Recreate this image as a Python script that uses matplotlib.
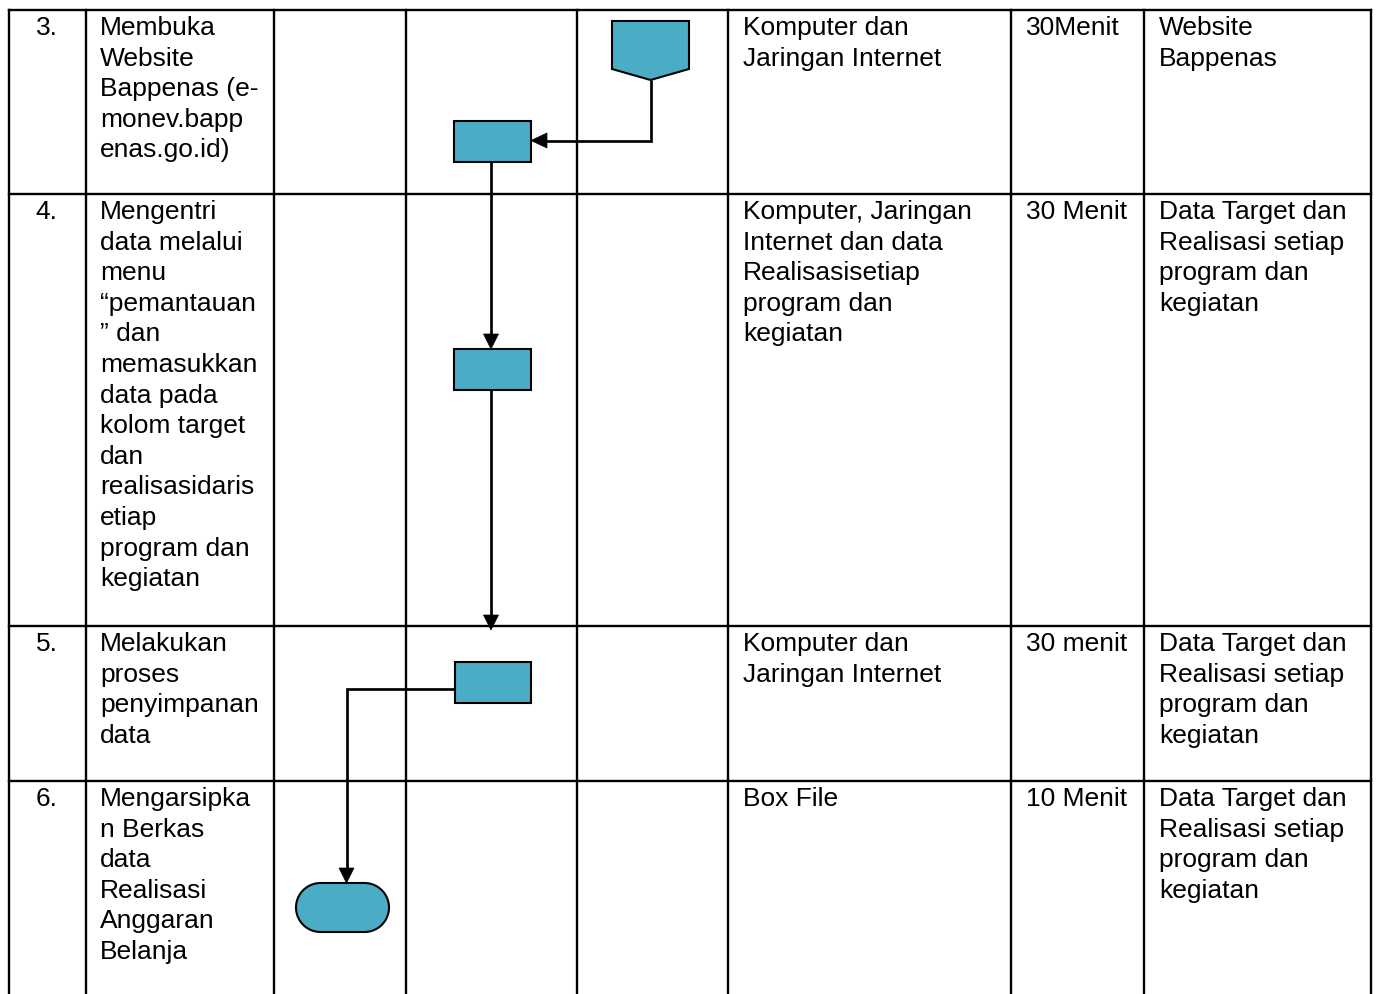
import matplotlib
matplotlib.use("Agg")
import numpy as np
import matplotlib.pyplot as plt
from matplotlib.patches import Rectangle, Polygon

plt.rcParams['font.family'] = ['Liberation Sans', 'DejaVu Sans']

# ---- table content ----
row_numbers = ["3.", "4.", "5.", "6."]
activities = [
    ["Membuka", "Website", "Bappenas (e-", "monev.bapp", "enas.go.id)"],
    ["Mengentri", "data melalui", "menu", "\u201cpemantauan", "\u201d dan", "memasukkan",
     "data pada", "kolom target", "dan", "realisasidaris", "etiap", "program dan", "kegiatan"],
    ["Melakukan", "proses", "penyimpanan", "data"],
    ["Mengarsipka", "n Berkas", "data", "Realisasi", "Anggaran", "Belanja"],
]
equipment = [
    ["Komputer dan", "Jaringan Internet"],
    ["Komputer, Jaringan", "Internet dan data", "Realisasisetiap", "program dan", "kegiatan"],
    ["Komputer dan", "Jaringan Internet"],
    ["Box File"],
]
durations = ["30Menit", "30 Menit", "30 menit", "10 Menit"]
outputs = [
    ["Website", "Bappenas"],
    ["Data Target dan", "Realisasi setiap", "program dan", "kegiatan"],
    ["Data Target dan", "Realisasi setiap", "program dan", "kegiatan"],
    ["Data Target dan", "Realisasi setiap", "program dan", "kegiatan"],
]

# ---- layout ----
W, H = 1376, 994
col_x = [9, 86, 274, 406, 577, 728, 1011, 1144, 1371]
row_y = [10, 194, 626, 781, 994]
FILL = "#4BACC6"
LW_TABLE = 1.7
LW_FLOW = 1.5
FS = 19.0
BASE_OFF = 25
LINE_H = 30.6

fig = plt.figure(figsize=(W / 100, H / 100), dpi=100)
ax = fig.add_axes([0, 0, 1, 1])
ax.set_xlim(0, W)
ax.set_ylim(H, 0)
ax.axis("off")

# table grid
for y in row_y[:-1]:
    ax.plot([col_x[0], col_x[-1]], [y, y], color="black", lw=LW_TABLE, solid_capstyle="projecting")
for x in col_x:
    ax.plot([x, x], [row_y[0], H], color="black", lw=LW_TABLE, solid_capstyle="projecting")

# table text
for i in range(4):
    top = row_y[i]
    b0 = top + BASE_OFF
    ax.text((col_x[0] + col_x[1]) / 2 - 1, b0, row_numbers[i], fontsize=FS,
            ha="center", va="baseline")
    for k, line in enumerate(activities[i]):
        ax.text(100, b0 + k * LINE_H, line, fontsize=FS, ha="left", va="baseline")
    for k, line in enumerate(equipment[i]):
        ax.text(743, b0 + k * LINE_H, line, fontsize=FS, ha="left", va="baseline")
    ax.text(1026, b0, durations[i], fontsize=FS, ha="left", va="baseline")
    for k, line in enumerate(outputs[i]):
        ax.text(1159, b0 + k * LINE_H, line, fontsize=FS, ha="left", va="baseline")


def arrowhead(x, y, direction, length=15, width=15):
    if direction == "down":
        pts = [(x, y), (x - width / 2, y - length), (x + width / 2, y - length)]
    else:
        pts = [(x, y), (x + length, y - width / 2), (x + length, y + width / 2)]
    ax.add_patch(Polygon(pts, closed=True, facecolor="black", edgecolor="black",
                         lw=0.5, zorder=4))


def poly(xs, ys):
    ax.plot(xs, ys, color="black", lw=LW_FLOW * 1.3, zorder=3,
            solid_joinstyle="miter", solid_capstyle="butt")


# off-page connector (row 3)
ax.add_patch(Polygon([(612, 21), (689, 21), (689, 69), (650.5, 80), (612, 69)], closed=True,
                     facecolor=FILL, edgecolor="black", lw=LW_FLOW, zorder=5))

# process boxes
boxes = [(454, 121, 77, 41), (454, 349, 77, 41), (455, 662, 76, 41)]
for (bx, by, bw, bh) in boxes:
    ax.add_patch(Rectangle((bx, by), bw, bh, facecolor=FILL, edgecolor="black",
                           lw=LW_FLOW, zorder=5))

# terminator (stadium shape)
tx0, tx1, ty0, ty1 = 296, 389, 883, 932
r = (ty1 - ty0) / 2
cy = (ty0 + ty1) / 2
t = np.linspace(-np.pi / 2, np.pi / 2, 40)
right = np.column_stack([tx1 - r + r * np.cos(t), cy + r * np.sin(t)])
t2 = np.linspace(np.pi / 2, 3 * np.pi / 2, 40)
left = np.column_stack([tx0 + r + r * np.cos(t2), cy + r * np.sin(t2)])
ax.add_patch(Polygon(np.vstack([right, left]), closed=True, facecolor=FILL,
                     edgecolor="black", lw=LW_FLOW, zorder=5))

# connectors
poly([650.5, 650.5, 545], [80, 140.5, 140.5])
arrowhead(531, 140.5, "left", length=16, width=15)

poly([491, 491], [162, 336])
arrowhead(491, 349, "down")

poly([491, 491], [390, 617])
arrowhead(491, 630, "down")

poly([455, 346.5, 346.5], [689, 689, 870])
arrowhead(346.5, 883, "down")

fig.savefig("out.png", dpi=100)
